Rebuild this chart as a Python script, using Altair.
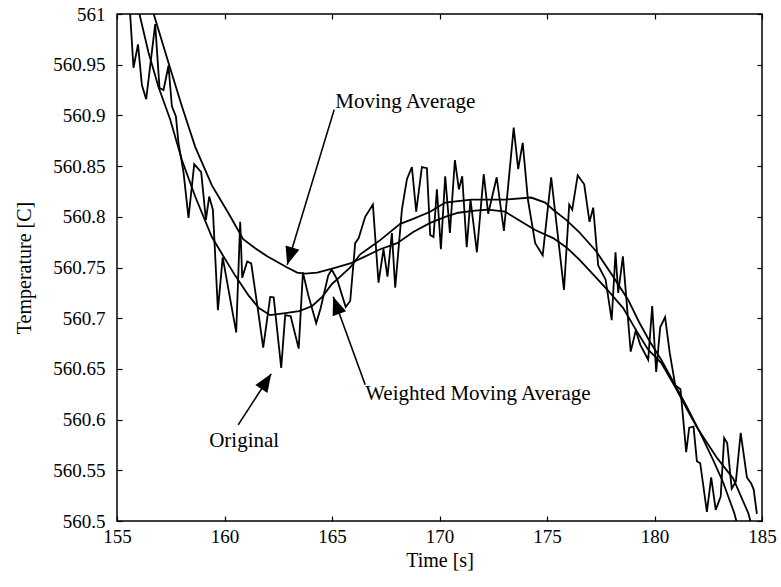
import altair as alt
import pandas as pd

# ---- Original (noisy) temperature signal ----
orig_t = [155.57, 155.767, 155.977, 156.158, 156.358, 156.777, 156.977, 157.163, 157.395, 157.553,
          157.740, 157.860, 158.093, 158.326, 158.591, 158.916, 159.135, 159.288, 159.460, 159.693,
          159.916, 160.544, 160.730, 160.823, 161.056, 161.242, 161.544, 161.800, 162.126, 162.288,
          162.637, 162.823, 163.079, 163.451, 163.647, 163.893, 164.265, 164.474, 164.823, 164.986,
          165.242, 165.637, 165.847, 166.079, 166.242, 166.544, 166.902, 167.163, 167.395, 167.581,
          167.786, 167.940, 168.251, 168.484, 168.716, 168.916, 169.181, 169.414, 169.567, 169.721,
          169.879, 170.065, 170.265, 170.484, 170.716, 170.902, 171.056, 171.265, 171.442, 171.740,
          172.056, 172.265, 172.660, 172.995, 173.451, 173.660, 173.870, 174.112, 174.451, 174.800,
          175.195, 175.791, 176.033, 176.174, 176.428, 176.730, 176.977, 177.149, 177.381, 177.726,
          178.009, 178.186, 178.312, 178.530, 178.893, 179.130, 179.335, 179.707, 179.893, 180.079,
          180.265, 180.493, 180.707, 180.963, 181.209, 181.474, 181.614, 181.814, 181.972, 182.126,
          182.437, 182.637, 182.847, 183.079, 183.240, 183.381, 183.591, 183.786, 184.009, 184.298,
          184.498, 184.614, 184.763]
orig_v = [561.014, 560.947, 560.970, 560.930, 560.916, 560.990, 560.927, 560.925, 560.949, 560.909,
          560.899, 560.873, 560.844, 560.799, 560.852, 560.844, 560.797, 560.820, 560.807, 560.708,
          560.760, 560.686, 560.795, 560.740, 560.756, 560.754, 560.710, 560.671, 560.721, 560.7206,
          560.651, 560.703, 560.702, 560.670, 560.745, 560.723, 560.695, 560.710, 560.742, 560.748,
          560.738, 560.711, 560.717, 560.774, 560.779, 560.800, 560.812, 560.735, 560.768, 560.741,
          560.784, 560.730, 560.807, 560.837, 560.849, 560.805, 560.849, 560.848, 560.782, 560.780,
          560.827, 560.768, 560.840, 560.784, 560.856, 560.827, 560.840, 560.770, 560.817, 560.765,
          560.842, 560.803, 560.839, 560.786, 560.888, 560.847, 560.873, 560.817, 560.774, 560.762,
          560.839, 560.728, 560.812, 560.807, 560.841, 560.832, 560.795, 560.809, 560.752, 560.738,
          560.698, 560.765, 560.725, 560.761, 560.667, 560.688, 560.674, 560.659, 560.712, 560.647,
          560.691, 560.701, 560.666, 560.634, 560.630, 560.568, 560.592, 560.593, 560.559, 560.557,
          560.509, 560.543, 560.511, 560.524, 560.582, 560.577, 560.532, 560.539, 560.587, 560.543,
          560.537, 560.531, 560.507]

# ---- Moving average ----
ma_t = [156.544, 156.777, 157.395, 158.019, 158.637, 159.414, 160.172, 160.870, 161.428, 161.986,
        162.916, 163.381, 163.753, 164.312, 165.009, 165.847, 166.451, 167.242, 168.033, 168.777,
        169.567, 170.265, 170.870, 171.660, 172.265, 173.056, 173.660, 174.451, 175.286, 175.893,
        176.493, 177.286, 177.893, 178.544, 179.149, 179.707, 180.312, 180.963, 181.521, 181.986,
        182.916, 183.660, 184.358, 184.498]
ma_v = [561.012, 560.995, 560.952, 560.909, 560.869, 560.831, 560.804, 560.778, 560.769, 560.761,
        560.750, 560.745, 560.744, 560.745, 560.749, 560.754, 560.760, 560.768, 560.774, 560.785,
        560.794, 560.800, 560.804, 560.806, 560.807, 560.805, 560.797, 560.787, 560.779, 560.770,
        560.758, 560.740, 560.726, 560.710, 560.688, 560.669, 560.656, 560.632, 560.610, 560.592,
        560.562, 560.542, 560.508, 560.497]

# ---- Weighted moving average ----
wma_t = [155.893, 156.000, 156.465, 156.930, 157.474, 158.019, 158.637, 159.414, 159.893, 160.498,
         161.135, 161.600, 162.126, 162.823, 163.474, 164.079, 164.544, 165.009, 165.381, 165.847,
         166.312, 166.777, 167.242, 168.172, 168.777, 169.567, 170.265, 171.474, 173.056, 174.265,
         174.916, 175.286, 175.893, 176.493, 177.286, 178.079, 178.777, 179.286, 179.753, 180.312,
         180.963, 181.521, 182.126, 182.730, 183.195, 183.707, 183.847]
wma_v = [561.012, 561.004, 560.962, 560.928, 560.896, 560.856, 560.820, 560.780, 560.763, 560.742,
         560.722, 560.710, 560.703, 560.705, 560.707, 560.712, 560.721, 560.734, 560.741, 560.750,
         560.763, 560.770, 560.777, 560.793, 560.798, 560.805, 560.814, 560.817, 560.817, 560.819,
         560.814, 560.807, 560.797, 560.785, 560.766, 560.741, 560.718, 560.696, 560.678, 560.659,
         560.634, 560.612, 560.587, 560.560, 560.538, 560.508, 560.497]

# ---- Axis ticks ----
x_ticks = [155, 160, 165, 170, 175, 180, 185]
y_ticks = [560.5, 560.55, 560.6, 560.65, 560.7, 560.75, 560.8, 560.85, 560.9, 560.95, 561.0]

# ---- Annotations ----
label_text = ["Moving Average", "Weighted Moving Average", "Original"]
label_t = [165.149, 166.544, 159.288]
label_v = [560.9077, 560.6194, 560.5731]
arrow_t0 = [165.102, 166.544, 160.637]
arrow_v0 = [560.9057, 560.6343, 560.5948]
arrow_t1 = [162.916, 165.056, 162.172]
arrow_v1 = [560.7527, 560.7211, 560.6451]
arrow_angle = [197, 340, 33]

FONT = "Liberation Serif"
xs = alt.Scale(domain=[155, 185], nice=False, zero=False)
ys = alt.Scale(domain=[560.5, 561.0], nice=False, zero=False)

df_o = pd.DataFrame({"t": orig_t, "v": orig_v})
df_ma = pd.DataFrame({"t": ma_t, "v": ma_v})
df_w = pd.DataFrame({"t": wma_t, "v": wma_v})
df_lab = pd.DataFrame({"t": label_t, "v": label_v, "txt": label_text})
df_arr = pd.DataFrame({"t0": arrow_t0, "v0": arrow_v0, "t1": arrow_t1, "v1": arrow_v1,
                       "ang": arrow_angle})

common_axis = dict(grid=False, domain=False, tickColor="black", tickWidth=1.2, tickSize=5,
                   offset=-5, labelFont=FONT, labelFontSize=19, labelColor="black",
                   labelFlush=False, titleFont=FONT, titleFontSize=20, titleColor="black",
                   titleFontWeight="normal")

ax_bottom = alt.Axis(values=x_ticks, title="Time [s]", labelPadding=6, titlePadding=4,
                     **common_axis)
ax_left = alt.Axis(values=y_ticks, format=".2~f", title="Temperature [C]", labelPadding=12,
                   titlePadding=18, **common_axis)
ax_top = alt.Axis(values=x_ticks, orient="top", labels=False, title=None, **common_axis)
ax_right = alt.Axis(values=y_ticks, orient="right", labels=False, title=None, **common_axis)

line_style = dict(color="black", strokeWidth=1.8, clip=True)

orig = alt.Chart(df_o).mark_line(**line_style).encode(
    x=alt.X("t:Q", scale=xs, axis=ax_bottom),
    y=alt.Y("v:Q", scale=ys, axis=ax_left),
)
ma = alt.Chart(df_ma).mark_line(**line_style).encode(
    x=alt.X("t:Q", scale=xs, axis=ax_top),
    y=alt.Y("v:Q", scale=ys, axis=ax_right),
)
wma = alt.Chart(df_w).mark_line(**line_style).encode(
    x=alt.X("t:Q", scale=xs, axis=None),
    y=alt.Y("v:Q", scale=ys, axis=None),
)
texts = alt.Chart(df_lab).mark_text(font=FONT, fontSize=21, align="left",
                                    baseline="alphabetic", color="black").encode(
    x=alt.X("t:Q", scale=xs, axis=None),
    y=alt.Y("v:Q", scale=ys, axis=None),
    text="txt:N",
)
arrow_lines = alt.Chart(df_arr).mark_rule(color="black", strokeWidth=1.6).encode(
    x=alt.X("t0:Q", scale=xs, axis=None),
    y=alt.Y("v0:Q", scale=ys, axis=None),
    x2="t1:Q",
    y2="v1:Q",
)
arrow_heads = alt.Chart(df_arr).mark_point(
    shape="M0,0 L-0.4,1 L0.4,1 Z", filled=True, size=1296, color="black",
    opacity=1, strokeWidth=0).encode(
    x=alt.X("t1:Q", scale=xs, axis=None),
    y=alt.Y("v1:Q", scale=ys, axis=None),
    angle=alt.Angle("ang:Q", scale=None),
)

chart = alt.layer(orig, ma, wma, arrow_lines, arrow_heads, texts).resolve_axis(
    x="independent", y="independent"
).properties(
    width=645, height=507,
    padding={"left": 117, "top": 14, "right": 19, "bottom": 66},
    autosize=alt.AutoSizeParams(type="none"),
    background="white",
).configure_view(stroke="black", strokeWidth=1.5)

chart.save("out.html", embed_options={"renderer": "svg", "actions": False})
